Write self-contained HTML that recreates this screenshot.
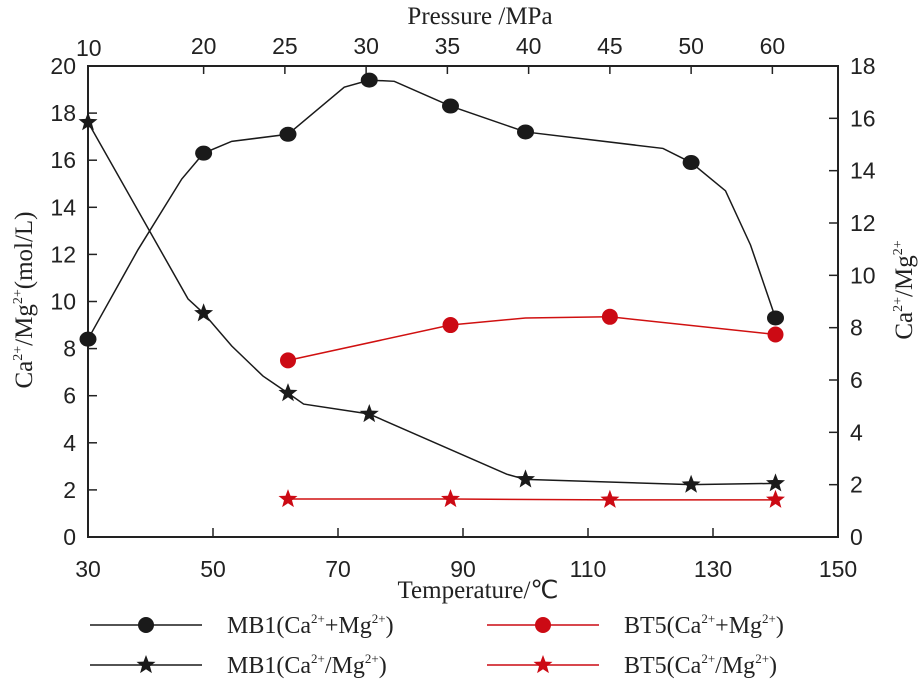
<!DOCTYPE html>
<html><head><meta charset="utf-8"><style>
html,body{margin:0;padding:0;background:#fff;}
svg{display:block;}
.tk{font-family:"Liberation Sans",sans-serif;font-size:23px;fill:#222;}
.sr{font-family:"Liberation Serif",serif;fill:#222;}
</style></head><body>
<svg id="chart" width="922" height="684" viewBox="0 0 922 684" xmlns="http://www.w3.org/2000/svg">
<g id="axes"></g>
<g id="series"></g>
<g id="legend"></g>
</svg>
<script>
const xTicks=[30,50,70,90,110,130,150];
const yLeftTicks=[0,2,4,6,8,10,12,14,16,18,20];
const yRightTicks=[0,2,4,6,8,10,12,14,16,18];
const pressureLabels=["10","20","25","30","35","40","45","50","60"];
const pressureTemps=[30,48.5,61.5,74.5,87.5,100.5,113.5,126.5,139.5];
// MB1 concentration (left axis)
const mb1ConcT=[30,48.5,62,75,88,100,126.5,140];
const mb1ConcV=[8.4,16.3,17.1,19.4,18.3,17.2,15.9,9.3];
const mb1ConcPathT=[30,38,45,48.5,53,62,71,75,79,88,100,122,126.5,132,136,140];
const mb1ConcPathV=[8.4,12.2,15.2,16.3,16.8,17.1,19.1,19.4,19.35,18.3,17.2,16.5,15.9,14.7,12.4,9.3];
// MB1 ratio (right axis)
const mb1RatioT=[30,48.5,62,75,100,126.5,140];
const mb1RatioV=[15.85,8.55,5.5,4.7,2.2,2.0,2.05];
const mb1RatioPathT=[30,46,48.5,53,58,62,64.5,75,97,100,126.5,140];
const mb1RatioPathV=[15.85,9.1,8.55,7.3,6.15,5.5,5.08,4.7,2.4,2.2,2.0,2.05];
// BT5 concentration (left axis)
const bt5ConcT=[62,88,113.5,140];
const bt5ConcV=[7.5,9.0,9.35,8.6];
const bt5ConcPathT=[62,88,100,113.5,140];
const bt5ConcPathV=[7.5,9.0,9.3,9.35,8.6];
// BT5 ratio (right axis)
const bt5RatioT=[62,88,113.5,140];
const bt5RatioV=[1.45,1.45,1.42,1.42];

const L=88,R=838,T=66,B=537;
const xs=t=>L+(t-30)/120*(R-L);
const yl=v=>B-v/20*(B-T);
const yr=v=>B-v/18*(B-T);
const NS="http://www.w3.org/2000/svg";
function mk(tag,attrs,parent,text){const e=document.createElementNS(NS,tag);for(const k in attrs)e.setAttribute(k,attrs[k]);if(text!==undefined)e.textContent=text;parent.appendChild(e);return e;}
const axes=document.getElementById('axes'),ser=document.getElementById('series'),leg=document.getElementById('legend');

let box=mk('rect',{x:L,y:T,width:R-L,height:B-T,fill:'none',stroke:'#222','stroke-width':2},axes);

xTicks.forEach(t=>{
 if(t>30&&t<150){let l=mk('line',{x1:xs(t),x2:xs(t),y1:B,y2:B-9,stroke:'#222','stroke-width':1.5},axes);}
 let tx=mk('text',{x:xs(t),y:B+40,'text-anchor':'middle',class:'tk','font-size':24},axes,String(t));
 
});
yLeftTicks.forEach(v=>{
 if(v>0&&v<20){let l=mk('line',{x1:L,x2:L+9,y1:yl(v),y2:yl(v),stroke:'#222','stroke-width':1.5},axes);}
 let tx=mk('text',{x:L-12,y:yl(v)+8,'text-anchor':'end',class:'tk'},axes,String(v));
 
});
yRightTicks.forEach(v=>{
 if(v>0&&v<18){let l=mk('line',{x1:R,x2:R-9,y1:yr(v),y2:yr(v),stroke:'#222','stroke-width':1.5},axes);}
 let tx=mk('text',{x:R+12,y:yr(v)+8,'text-anchor':'start',class:'tk'},axes,String(v));
 
});
pressureLabels.forEach((p,i)=>{
 const x=xs(pressureTemps[i]);
 if(i>0){let l=mk('line',{x1:x,x2:x,y1:T,y2:T+8,stroke:'#222','stroke-width':1.5},axes);}
 let tx=mk('text',{x:i==0?x-12:x,y:i==0?T-10:T-12,'text-anchor':i==0?'start':'middle',class:'tk','font-size':i==0?16:23},axes,p);
 
});
</script>
<script>
(function(){
let t1=mk('text',{x:480,y:24,'text-anchor':'middle',class:'sr','font-size':25},axes,'Pressure /MPa');

let t2=mk('text',{x:478,y:598,'text-anchor':'middle',class:'sr','font-size':25},axes,'Temperature/℃');

let t3=mk('text',{transform:'translate(32,300) rotate(-90)','text-anchor':'middle',class:'sr','font-size':25},axes);

t3.innerHTML='Ca<tspan font-size="14" dy="-10">2+</tspan><tspan dy="10">/Mg</tspan><tspan font-size="14" dy="-10">2+</tspan><tspan dy="10">(mol/L)</tspan>';
let t4=mk('text',{transform:'translate(912,290) rotate(-90)','text-anchor':'middle',class:'sr','font-size':25},axes);

t4.innerHTML='Ca<tspan font-size="14" dy="-10">2+</tspan><tspan dy="10">/Mg</tspan><tspan font-size="14" dy="-10">2+</tspan>';
})();
function star(cx,cy,r,fill,parent){let p='';for(let i=0;i<10;i++){const a=-Math.PI/2+i*Math.PI/5;const rr=i%2?r*0.42:r;p+=(i?'L':'M')+(cx+rr*Math.cos(a)).toFixed(1)+','+(cy+rr*Math.sin(a)).toFixed(1);}return mk('path',{d:p+'Z',fill:fill},parent);}
function drawLine(ts,vs,ys,color,name){const d=ts.map((t,i)=>(i?'L':'M')+xs(t)+','+ys(vs[i])).join('');const p=mk('path',{d:d,fill:'none',stroke:color,'stroke-width':1.5},ser);}
drawLine(mb1ConcPathT,mb1ConcPathV,yl,'#1a1a1a','mb1-conc-line');
drawLine(mb1RatioPathT,mb1RatioPathV,yr,'#1a1a1a','mb1-ratio-line');
drawLine(bt5ConcPathT,bt5ConcPathV,yl,'#d01010','bt5-conc-line');
drawLine(bt5RatioT,bt5RatioV,yr,'#d01010','bt5-ratio-line');
mb1ConcT.forEach((t,i)=>{const c=mk('ellipse',{cx:xs(t),cy:yl(mb1ConcV[i]),rx:8.5,ry:7.5,fill:'#1a1a1a'},ser);});
bt5ConcT.forEach((t,i)=>{const c=mk('ellipse',{cx:xs(t),cy:yl(bt5ConcV[i]),rx:8,ry:8,fill:'#cc0a14'},ser);});
mb1RatioT.forEach((t,i)=>{const c=star(xs(t),yr(mb1RatioV[i]),10,'#1a1a1a',ser);});
bt5RatioT.forEach((t,i)=>{const c=star(xs(t),yr(bt5RatioV[i]),10,'#cc0a14',ser);});
const legItems=[
 {x:90,y:625,c:'#1a1a1a',m:'dot',lab:['MB1(Ca','2+','+Mg','2+',')'],n:'legend-mb1-conc'},
 {x:487,y:625,c:'#cc0a14',m:'dot',lab:['BT5(Ca','2+','+Mg','2+',')'],n:'legend-bt5-conc'},
 {x:90,y:665,c:'#1a1a1a',m:'star',lab:['MB1(Ca','2+','/Mg','2+',')'],n:'legend-mb1-ratio'},
 {x:487,y:665,c:'#cc0a14',m:'star',lab:['BT5(Ca','2+','/Mg','2+',')'],n:'legend-bt5-ratio'}];
legItems.forEach(it=>{
 const g=mk('g',{},leg);
 mk('line',{x1:it.x,x2:it.x+112,y1:it.y,y2:it.y,stroke:it.c,'stroke-width':1.5},g);
 if(it.m=='dot')mk('ellipse',{cx:it.x+56,cy:it.y,rx:8,ry:8,fill:it.c},g);else star(it.x+56,it.y,10,it.c,g);
 const t=mk('text',{x:it.x+137,y:it.y+8,class:'sr','font-size':24},g);
 t.innerHTML=it.lab[0]+'<tspan font-size="13" dy="-10">'+it.lab[1]+'</tspan><tspan dy="10">'+it.lab[2]+'</tspan><tspan font-size="13" dy="-10">'+it.lab[3]+'</tspan><tspan dy="10">'+it.lab[4]+'</tspan>';
});
</script>
</body></html>
